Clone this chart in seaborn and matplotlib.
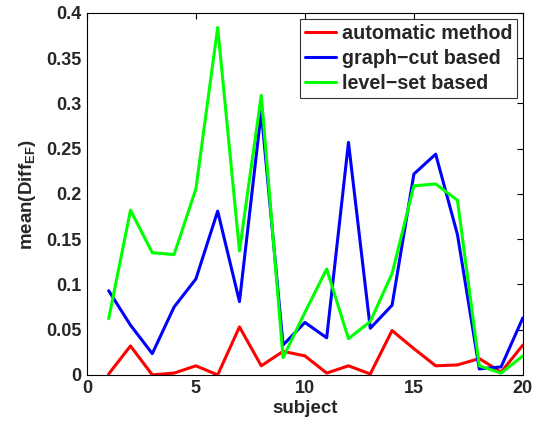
import numpy as np
import pandas as pd
import matplotlib
matplotlib.use("Agg")
import matplotlib.pyplot as plt
import seaborn as sns

subjects = list(range(1, 21))
automatic = [0.001, 0.032, 0.000, 0.002, 0.010, 0.000, 0.053, 0.010, 0.026, 0.021,
             0.002, 0.010, 0.001, 0.049, 0.029, 0.010, 0.011, 0.018, 0.003, 0.033]
graph_cut = [0.093, 0.055, 0.0235, 0.075, 0.106, 0.181, 0.081, 0.291, 0.033, 0.058,
             0.041, 0.257, 0.0515, 0.077, 0.222, 0.244, 0.155, 0.0066, 0.0088, 0.063]
level_set = [0.062, 0.182, 0.135, 0.133, 0.2055, 0.384, 0.137, 0.309, 0.019, 0.069,
             0.117, 0.040, 0.059, 0.112, 0.209, 0.211, 0.193, 0.010, 0.002, 0.021]
methods = ["automatic method", "graph\u2212cut based", "level\u2212set based"]
colors = ["#ff0000", "#0000ff", "#00ff00"]
x_ticks = [0, 5, 10, 15, 20]
y_ticks = [0, 0.05, 0.1, 0.15, 0.2, 0.25, 0.3, 0.35, 0.4]
y_tick_labels = ["0", "0.05", "0.1", "0.15", "0.2", "0.25", "0.3", "0.35", "0.4"]

df = pd.DataFrame({
    "subject": subjects * 3,
    "value": automatic + graph_cut + level_set,
    "method": [methods[0]] * 20 + [methods[1]] * 20 + [methods[2]] * 20,
})

sns.set_style("white")
plt.rcParams["font.family"] = ["Liberation Sans", "DejaVu Sans"]
plt.rcParams["font.weight"] = "bold"
plt.rcParams["mathtext.fontset"] = "custom"
plt.rcParams["mathtext.rm"] = "Liberation Sans:bold"
plt.rcParams["mathtext.it"] = "Liberation Sans:bold"
plt.rcParams["mathtext.bf"] = "Liberation Sans:bold"

fig = plt.figure(figsize=(5.33, 4.26), dpi=100)
ax = fig.add_axes([0.163, 0.12, 0.818, 0.8495])

sns.lineplot(data=df, x="subject", y="value", hue="method",
             palette=dict(zip(methods, colors)), linewidth=2.2, ax=ax,
             legend=True)

ax.set_xlim(0, 20)
ax.set_ylim(0, 0.4)
ax.set_xticks(x_ticks)
ax.set_xticklabels([str(t) for t in x_ticks])
ax.set_yticks(y_ticks)
ax.set_yticklabels(y_tick_labels)
ax.tick_params(axis="both", which="both", direction="in", length=4,
               top=True, right=True, labelsize=13, width=0.8, color="black", pad=4)
for lbl in ax.get_xticklabels() + ax.get_yticklabels():
    lbl.set_fontweight("bold")
for sp in ax.spines.values():
    sp.set_color("black")
    sp.set_linewidth(0.8)

ax.set_xlabel("subject", fontsize=13.5, fontweight="bold", labelpad=2)
ax.set_ylabel("mean(Diff$_{\\mathrm{EF}}$)", fontsize=13.5, fontweight="bold", labelpad=6)

leg = ax.legend(loc="upper right", fontsize=14.2, frameon=True, fancybox=False,
                handlelength=1.55, handletextpad=0.3, borderpad=0.25,
                labelspacing=0.3, borderaxespad=0.3)
leg.get_frame().set_edgecolor("black")
leg.get_frame().set_linewidth(0.8)
for t in leg.get_texts():
    t.set_fontweight("bold")
for h in leg.get_lines():
    h.set_linewidth(2.2)

fig.savefig("out.png", dpi=100)
